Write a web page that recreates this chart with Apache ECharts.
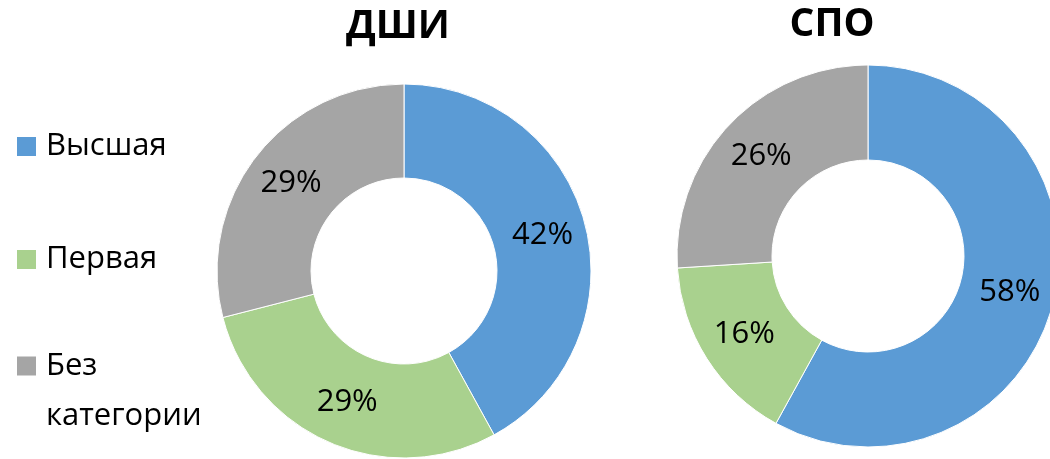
<!DOCTYPE html>
<html>
<head>
<meta charset="utf-8">
<script src="https://cdn.jsdelivr.net/npm/echarts@6/dist/echarts.min.js"></script>
<style>
  html, body { margin: 0; padding: 0; background: #fff; }
  #chart { width: 1050px; height: 459px; }
</style>
</head>
<body>
<div id="chart"></div>
<script>
// Данные
const categories = ['Высшая', 'Первая', 'Без категории'];
const dshiValues = [42, 29, 29];
const spoValues = [58, 16, 26];
const colors = ['#5B9BD5', '#A9D18E', '#A5A5A5'];

const chart = echarts.init(document.getElementById('chart'));

const font = '"Open Sans", sans-serif';

const toData = values => categories.map((name, i) => ({ name, value: values[i] }));

const pieBase = {
  type: 'pie',
  startAngle: 90,
  clockwise: true,
  avoidLabelOverlap: false,
  itemStyle: { borderColor: '#fff', borderWidth: 1 },
  label: {
    show: true,
    position: 'inside',
    formatter: p => p.value + '%',
    color: '#000',
    fontSize: 31,
    fontFamily: font
  },
  labelLine: { show: false },
  emphasis: { disabled: true }
};

const legendBase = {
  orient: 'vertical',
  left: 15,
  padding: 0,
  itemWidth: 21,
  itemHeight: 21,
  itemGap: 0,
  icon: 'rect',
  textStyle: { fontSize: 31, fontFamily: font, color: '#000', lineHeight: 21, padding: [0, 0, 0, 4] },
  selectedMode: false
};

const option = {
  backgroundColor: '#fff',
  color: colors,
  animation: false,
  title: [
    {
      text: 'ДШИ',
      left: 393,
      top: 2,
      textAlign: 'center',
      textStyle: { fontSize: 39, fontWeight: 'bold', fontFamily: font, color: '#000' }
    },
    {
      text: 'СПО',
      left: 827,
      top: 0,
      textAlign: 'center',
      textStyle: { fontSize: 39, fontWeight: 'bold', fontFamily: font, color: '#000' }
    }
  ],
  legend: [
    Object.assign({}, legendBase, { top: 131, data: [categories[0]] }),
    Object.assign({}, legendBase, { top: 244, data: [categories[1]] }),
    Object.assign({}, legendBase, {
      top: 291,
      // пустая первая строка, чтобы значок стоял напротив «Без»
      formatter: () => '\nБез\nкатегории',
      textStyle: { fontSize: 31, fontFamily: font, color: '#000', lineHeight: 50, padding: [0, 0, 0, 4] },
      data: [categories[2]]
    })
  ],
  series: [
    Object.assign({}, pieBase, {
      name: 'ДШИ',
      center: [404, 271],
      radius: [93, 187],
      data: toData(dshiValues)
    }),
    Object.assign({}, pieBase, {
      name: 'СПО',
      center: [868, 256],
      radius: [96, 191],
      data: toData(spoValues)
    })
  ]
};

chart.setOption(option);
</script>
</body>
</html>
